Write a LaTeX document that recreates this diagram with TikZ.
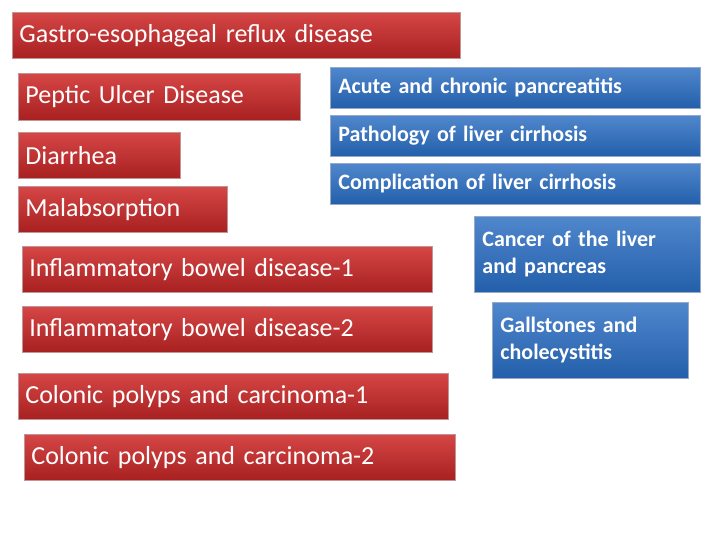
\documentclass[tikz,border=0pt]{standalone}
\usepackage{fontspec}
\setmainfont{Carlito}
\begin{document}
\begin{tikzpicture}[x=1pt,y=-1pt,
 redbox/.style={anchor=north west,inner xsep=6pt,inner ysep=0pt,text=white,align=left,
   top color={rgb,255:red,214;green,70;blue,70},bottom color={rgb,255:red,168;green,32;blue,32},
   draw={rgb,255:red,190;green,150;blue,150},line width=0.8pt,font=\fontsize{26}{30}\selectfont},
 bluebox/.style={anchor=north west,inner xsep=7pt,inner ysep=0pt,text=white,align=left,
   top color={rgb,255:red,80;green,135;blue,205},bottom color={rgb,255:red,35;green,95;blue,170},
   draw={rgb,255:red,150;green,170;blue,200},line width=0.8pt,font=\bfseries\fontsize{22}{27}\selectfont}]
\useasboundingbox (0,0) rectangle (720,540);
\fill[white] (0,0) rectangle (720,540);
\node[redbox,minimum width=448,minimum height=46,text width=434] (g) at (12,12) {Gastro-esophageal reflux disease};
\node[redbox,minimum width=282,minimum height=47,text width=268] (p) at (18,73) {Peptic Ulcer Disease};
\node[redbox,minimum width=162,minimum height=46,text width=148] (d) at (18,132) {Diarrhea};
\node[redbox,minimum width=209,minimum height=46,text width=195] (m) at (18,186) {Malabsorption};
\node[redbox,minimum width=410,minimum height=46,text width=396] (i1) at (22,246) {Inflammatory bowel disease-1};
\node[redbox,minimum width=410,minimum height=46,text width=396] (i2) at (22,306) {Inflammatory bowel disease-2};
\node[redbox,minimum width=430,minimum height=46,text width=416] (c1) at (18,373) {Colonic polyps and carcinoma-1};
\node[redbox,minimum width=431,minimum height=46,text width=417] (c2) at (24,434) {Colonic polyps and carcinoma-2};
\node[bluebox,minimum width=370,minimum height=41,text width=354] (a) at (330,67) {Acute and chronic pancreatitis};
\node[bluebox,minimum width=370,minimum height=41,text width=354] (b) at (330,115) {Pathology of liver cirrhosis};
\node[bluebox,minimum width=370,minimum height=41,text width=354] (c) at (330,163) {Complication of liver cirrhosis};
\node[bluebox,minimum width=226,minimum height=76,text width=210] (e) at (474,216) {Cancer of the liver\\and pancreas};
\node[bluebox,minimum width=196,minimum height=76,text width=180] (f) at (492,302) {Gallstones and\\cholecystitis};
\end{tikzpicture}
\end{document}
